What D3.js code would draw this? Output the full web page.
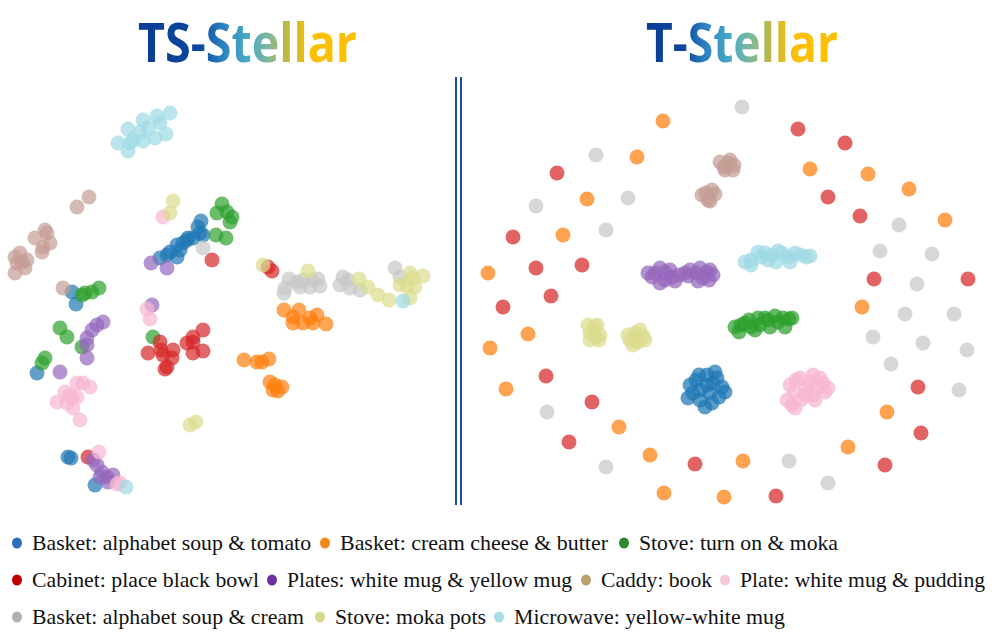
<!DOCTYPE html>
<html>
<head>
<meta charset="utf-8">
<script src="https://cdn.jsdelivr.net/npm/d3@7"></script>
<style>
  body { margin: 0; background: #fff; }
  svg { display: block; }
</style>
</head>
<body>
<svg id="svg" width="997" height="635"></svg>
<script>
(function() {

    const svg = d3.select('#svg')
    const width = 997, height = 635

    // categories, in legend order
    const classes = [
        "Basket: alphabet soup & tomato", "Basket: cream cheese & butter", "Stove: turn on & moka",
        "Cabinet: place black bowl", "Plates: white mug & yellow mug", "Caddy: book", "Plate: white mug & pudding",
        "Basket: alphabet soup & cream", "Stove: moka pots", "Microwave: yellow-white mug"
    ]
    const pointColors = ["#1f77b4","#ff7f0e","#2ca02c","#d62728","#9467bd","#c49c94","#f7b6d2","#c7c7c7","#dbdb8d","#9edae5"]
    const legendColors = ["#2a6ebb","#f28a1a","#2d8a2d","#c00000","#7030a0","#b8a070","#f7c6d8","#b0b0b0","#d8d890","#a8dce8"]
    const legendRows = [[0, 1, 2], [3, 4, 5, 6], [7, 8, 9]]

    // TS-Stellar embedding (left panel), one array per class
    const tsBlue = [[201,221],[198,227],[200,233],[203,235],[193,238],[187,240],[177,245],[180,250],[170,252],[167,255],[160,258],[177,257],[188,238],[183,243],[72,292],[76,304],[37,373],[68,457],[71,458],[95,485]]
    const tsOrange = [[284,310],[299,310],[293,317],[293,323],[303,323],[310,318],[317,315],[313,323],[326,324],[244,360],[257,362],[262,362],[269,359],[270,382],[275,385],[282,387],[273,390],[278,391]]
    const tsGreen = [[222,204],[217,213],[227,212],[230,222],[232,217],[216,235],[226,238],[85,293],[92,292],[99,288],[82,295],[60,328],[67,337],[82,347],[45,358],[42,363],[153,337]]
    const tsRed = [[212,260],[268,267],[272,271],[203,330],[193,337],[187,343],[193,353],[203,351],[193,342],[160,342],[148,353],[161,350],[163,355],[173,350],[172,358],[165,369],[167,367],[88,457]]
    const tsPurple = [[151,263],[167,268],[103,322],[97,325],[92,330],[87,338],[87,345],[87,358],[60,372],[152,305],[93,460],[97,465],[102,472],[107,477],[113,475],[108,482],[100,477]]
    const tsBrown = [[89,197],[77,207],[45,230],[35,238],[50,243],[42,252],[20,253],[15,257],[27,260],[17,263],[25,268],[15,273],[47,233],[43,247],[22,262],[63,288]]
    const tsPink = [[163,217],[147,309],[150,319],[77,383],[83,383],[90,387],[65,392],[70,395],[77,397],[57,402],[67,403],[73,408],[80,420],[72,398],[99,452],[117,484],[120,483]]
    const tsGray = [[203,248],[289,279],[297,282],[303,280],[312,280],[318,279],[320,286],[310,287],[300,287],[285,288],[284,293],[343,277],[348,280],[340,285],[350,288],[360,290],[395,268],[400,277]]
    const tsYellow = [[173,201],[170,213],[263,265],[308,271],[359,279],[368,287],[378,295],[389,300],[410,273],[423,276],[407,286],[415,287],[400,285],[413,278],[410,298],[190,425],[196,422]]
    const tsCyan = [[170,113],[157,116],[143,120],[128,129],[118,143],[128,151],[133,140],[143,141],[155,138],[166,134],[148,128],[160,123],[140,132],[130,143],[126,487],[403,301]]

    // T-Stellar embedding (right panel)
    const tBlue = [[696,380],[707,375],[717,378],[722,387],[719,397],[705,407],[693,393],[700,390],[710,393],[707,385],[690,385],[713,383],[725,392],[700,400],[712,403],[688,398],[699,375],[715,372]]
    const tOrange = [[663,121],[637,157],[810,169],[868,174],[909,189],[587,199],[945,220],[563,235],[488,273],[528,334],[490,348],[506,389],[619,427],[650,455],[743,461],[664,493],[724,497],[848,447],[887,412],[862,307]]
    const tGreen = [[741,325],[749,320],[758,318],[768,320],[778,322],[789,319],[785,327],[739,332],[751,327],[760,325],[735,327],[745,323],[765,318],[775,316],[783,318],[792,318],[770,327],[755,330]]
    const tRed = [[798,129],[845,143],[557,173],[828,197],[860,216],[513,237],[536,268],[582,265],[874,279],[968,279],[551,296],[503,307],[546,376],[592,402],[569,442],[695,464],[776,496],[885,465],[921,433],[918,387]]
    const tPurple = [[655,273],[665,272],[672,277],[679,275],[696,273],[707,272],[713,275],[703,278],[652,277],[665,280],[648,273],[660,268],[670,270],[685,273],[690,270],[700,268],[710,270],[660,283],[675,281],[698,281],[709,280],[688,276]]
    const tBrown = [[730,160],[725,170],[734,165],[724,167],[728,163],[720,162],[733,170],[706,193],[715,194],[710,201],[702,195],[712,190],[708,200]]
    const tPink = [[796,380],[813,375],[823,383],[825,392],[813,395],[801,400],[792,405],[806,388],[794,392],[818,387],[790,385],[800,378],[810,382],[820,378],[828,388],[815,400],[805,395],[787,400],[795,408]]
    const tGray = [[742,107],[596,155],[536,206],[628,198],[899,225],[606,230],[880,251],[932,254],[917,284],[547,412],[606,467],[789,461],[828,483],[959,390],[891,364],[923,343],[967,350],[873,337],[905,314],[954,314]]
    const tYellow = [[594,327],[590,333],[599,340],[595,337],[588,325],[597,325],[590,340],[600,335],[635,333],[643,336],[630,340],[638,342],[628,335],[640,330],[645,340],[633,345]]
    const tCyan = [[751,260],[761,257],[772,255],[782,253],[789,257],[801,255],[806,257],[751,265],[768,260],[745,262],[758,252],[765,253],[778,251],[795,253],[810,256],[776,262],[790,262]]

    const tsSeries = [tsBlue, tsOrange, tsGreen, tsRed, tsPurple, tsBrown, tsPink, tsGray, tsYellow, tsCyan]
    const tSeries = [tBlue, tOrange, tGreen, tRed, tPurple, tBrown, tPink, tGray, tYellow, tCyan]

    const xLeft = d3.scaleLinear().domain([0, 450]).range([0, 450])
    const yLeft = d3.scaleLinear().domain([80, 505]).range([80, 505])
    const xRight = d3.scaleLinear().domain([470, 990]).range([470, 990])
    const yRight = d3.scaleLinear().domain([80, 505]).range([80, 505])

    // title gradients
    const defs = svg.append('defs')
    function gradient(id, stops) {
        const g = defs.append('linearGradient').attr('id', id)
            .attr('x1', '0%').attr('x2', '100%').attr('y1', '0%').attr('y2', '0%')
        stops.forEach(s => g.append('stop').attr('offset', s[0]).attr('stop-color', s[1]))
    }
    gradient('gradTS', [[0, '#0a3d94'], [0.28, '#0c469e'], [0.38, '#2a7fbe'], [0.5, '#48aac8'], [0.6, '#80b898'], [0.68, '#c0b842'], [0.75, '#e4bc1c'], [0.8, '#fcc000'], [1, '#fcc000']])
    gradient('gradT', [[0, '#0a3d94'], [0.2, '#0c469e'], [0.3, '#2a7fbe'], [0.44, '#48aac8'], [0.55, '#80b898'], [0.65, '#c0b842'], [0.72, '#e4bc1c'], [0.78, '#fcc000'], [1, '#fcc000']])

    svg.append('text')
        .attr('x', 138).attr('y', 62)
        .attr('textLength', 219).attr('lengthAdjust', 'spacingAndGlyphs')
        .style('font-family', '"Open Sans", "Noto Sans", sans-serif')
        .style('font-weight', 'bold').style('font-size', '54px')
        .attr('fill', 'url(#gradTS)')
        .text('TS-Stellar')

    svg.append('text')
        .attr('x', 646).attr('y', 62)
        .attr('textLength', 192).attr('lengthAdjust', 'spacingAndGlyphs')
        .style('font-family', '"Open Sans", "Noto Sans", sans-serif')
        .style('font-weight', 'bold').style('font-size', '54px')
        .attr('fill', 'url(#gradT)')
        .text('T-Stellar')

    // divider, double line
    ;[456, 461].forEach(x => {
        svg.append('line')
            .attr('x1', x).attr('x2', x).attr('y1', 77).attr('y2', 505)
            .style('stroke', '#1f4ea6').style('stroke-width', 2)
    })

    // points
    function drawPanel(series, xs, ys, r, opacity, cls) {
        series.forEach((pts, i) => {
            svg.selectAll('.' + cls + i)
                .data(pts)
                .enter()
                .append('circle')
                    .attr('class', cls + i)
                    .attr('cx', d => xs(d[0]))
                    .attr('cy', d => ys(d[1]))
                    .attr('r', r)
                    .attr('fill', pointColors[i])
                    .style('opacity', opacity)
        })
    }
    drawPanel(tsSeries, xLeft, yLeft, 7.5, 0.7, 'ts')
    drawPanel(tSeries, xRight, yRight, 7.5, 0.72, 't')

    // legend
    const legendX = [[17, 325, 624], [17, 272, 586, 725], [17, 320, 499]]
    const legendEnd = [[311, 608, 838], [259, 572, 712, 985], [304, 486, 785]]
    const rowY = [543, 580, 617]
    legendRows.forEach((row, ri) => {
        row.forEach((ci, k) => {
            const x = legendX[ri][k]
            svg.append('ellipse')
                .attr('cx', x).attr('cy', rowY[ri])
                .attr('rx', 5).attr('ry', 5.5)
                .attr('fill', legendColors[ci])
            svg.append('text')
                .attr('x', x + 15).attr('y', rowY[ri] + 7)
                .attr('textLength', legendEnd[ri][k] - x - 15)
                .attr('lengthAdjust', 'spacingAndGlyphs')
                .style('font-family', '"Liberation Serif", "Times New Roman", serif')
                .style('font-size', '21px')
                .attr('fill', '#111')
                .text(classes[ci])
        })
    })

})();
</script>
</body>
</html>
